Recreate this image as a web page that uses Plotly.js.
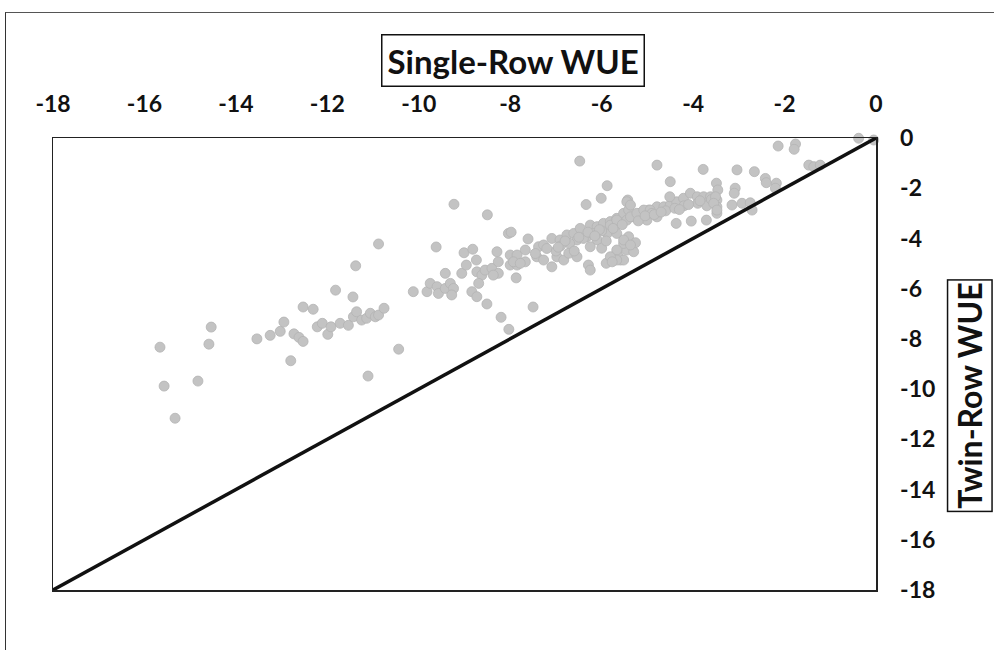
<!DOCTYPE html>
<html>
<head>
<meta charset="utf-8">
<script src="https://cdn.plot.ly/plotly-3.0.1.min.js"></script>
<style>
html,body{margin:0;padding:0;background:#fff;}
#wrap{position:relative;width:994px;height:650px;overflow:hidden;}
#chart{position:absolute;left:0;top:0;width:994px;height:650px;}
#frame{position:absolute;left:5px;top:12px;width:1000px;height:700px;border-left:1.5px solid #333;border-top:1.5px solid #555;pointer-events:none;}
</style>
</head>
<body>
<div id="wrap"><div id="chart"></div><div id="frame"></div></div>
<script>
// Single-Row WUE (x) vs Twin-Row WUE (y)
const singleRowWUE = [
-15.66,-15.57,-15.33,-14.83,-14.59,-14.54,-13.54,-13.25,-13.03,-12.95,-12.80,-12.73,-12.62,-12.53,-12.53,-12.31,-12.22,-12.11,-11.99,-11.92,
-11.82,-11.72,-11.54,-11.44,-11.43,-11.36,-11.38,-11.25,-11.14,-11.06,-10.95,-10.88,-10.88,-10.76,-11.11,-10.44,-10.12,
-9.82,-9.75,-9.60,-9.57,-9.42,-9.31,-9.24,-9.28,-9.62,-9.23,-9.42,-9.06,-8.96,-9.01,-8.82,-8.74,-8.84,-8.73,-8.51,-8.73,
-8.62,-8.55,-8.40,-8.69,-8.50,-8.29,-8.26,-8.26,-8.37,-8.20,-8.03,-8.04,-7.98,-8.00,-7.85,-7.67,-8.00,-7.85,-7.67,-7.93,
-7.78,-7.87,-7.61,-7.50,-7.38,-7.27,-7.42,-7.27,-7.09,-6.98,-6.83,-6.72,-6.54,-7.09,-6.91,-6.76,-6.61,-6.47,-6.25,-6.10,
-5.96,-5.81,-5.67,-5.52,-5.41,-6.54,-6.32,-6.10,-6.00,-6.25,-6.29,-6.25,-5.90,-5.67,-5.59,-5.45,-5.52,-5.41,-6.48,-5.88,
-6.01,-6.34,-5.43,-5.88,-5.74,-5.59,-5.45,-5.30,-5.16,-4.97,-4.79,-5.45,-5.37,-5.63,-5.30,-5.26,-5.81,-5.67,-5.37,-5.23,
-5.08,-4.94,-4.64,-4.50,-4.36,-4.21,-4.06,-3.91,-3.77,-3.62,-3.48,-3.48,-3.48,-4.37,-4.04,-3.71,-5.67,-5.52,-5.67,-5.37,
-5.52,-5.67,-5.81,-5.77,-4.79,-3.78,-4.50,-4.51,-3.49,-3.46,-5.01,-4.79,
-6.90,-6.70,-6.40,-6.20,-6.00,-5.90,-6.60,-7.00,-4.90,-4.60,-4.20,-3.90,-4.40,-3.70,
-6.80,-6.50,-6.30,-6.05,-5.75,-5.55,-5.20,-5.05,-4.85,-4.70,-4.30,-4.10,-3.85,-3.60,-7.20,-7.45,-6.95,-6.15,
-2.14,-1.76,-1.79,-0.38,-0.05,-3.04,-2.66,-2.42,-2.40,-2.18,-2.20,-1.47,-1.36,-1.22,-3.51,-3.55,-3.48,-3.08,-3.10,-3.15,
-2.93,-2.75,-2.71
];
const twinRowWUE = [
-8.33,-9.88,-11.16,-9.68,-8.21,-7.53,-8.00,-7.86,-7.70,-7.33,-8.87,-7.80,-7.94,-8.10,-6.73,-6.82,-7.52,-7.38,-7.82,-7.52,
-6.06,-7.38,-7.46,-6.33,-7.12,-6.92,-5.09,-7.25,-7.18,-6.98,-7.12,-4.22,-7.05,-6.78,-9.48,-8.41,-6.12,
-6.12,-5.79,-5.92,-6.19,-5.99,-5.79,-5.99,-6.25,-4.34,-2.64,-5.39,-5.39,-5.06,-4.57,-4.43,-4.86,-6.12,-6.32,-6.61,-5.33,
-5.46,-5.26,-5.19,-5.79,-3.06,-4.53,-4.93,-5.39,-5.46,-7.14,-7.62,-3.80,-3.75,-4.66,-4.66,-4.46,-5.06,-5.06,-4.93,-4.93,
-4.99,-5.57,-4.02,-6.73,-4.33,-4.26,-4.73,-4.86,-5.13,-4.73,-4.86,-4.59,-4.73,-4.00,-4.06,-3.86,-3.80,-3.60,-3.47,-3.53,
-3.40,-3.33,-3.20,-3.00,-2.87,-4.06,-3.93,-4.06,-4.39,-4.33,-5.06,-5.26,-4.99,-4.59,-4.86,-4.46,-4.20,-3.93,-0.92,-1.90,
-2.40,-2.65,-2.47,-3.80,-3.53,-3.40,-3.27,-3.14,-3.00,-2.87,-2.74,-2.54,-2.67,-4.73,-4.53,-4.17,-3.47,-3.27,-3.14,-3.00,
-2.87,-2.87,-2.74,-2.67,-2.54,-2.40,-2.20,-2.34,-2.34,-2.34,-2.47,-2.74,-3.00,-3.40,-3.31,-3.27,-3.80,-4.06,-4.46,-4.26,
-4.86,-4.86,-4.73,-4.93,-1.08,-1.25,-1.74,-2.34,-1.80,-2.07,-3.27,-3.14,
-4.30,-4.20,-4.00,-3.80,-3.70,-4.10,-4.50,-4.50,-3.00,-2.90,-2.70,-2.60,-2.80,-2.70,
-4.10,-3.95,-3.75,-3.65,-3.60,-3.45,-3.30,-3.10,-3.05,-2.95,-2.85,-2.65,-2.50,-2.45,-4.40,-4.60,-4.35,-3.90,
-0.32,-0.24,-0.45,-0.01,-0.08,-1.27,-1.34,-1.61,-1.78,-1.80,-2.00,-1.08,-1.14,-1.08,-2.34,-2.60,-2.87,-2.00,-2.20,-2.67,
-2.60,-2.58,-2.87
];
// 1:1 reference line
const oneToOneX = [-18, 0];
const oneToOneY = [-18, 0];
const tickVals = [-18,-16,-14,-12,-10,-8,-6,-4,-2,0];
const tickText = ['-18','-16','-14','-12','-10','-8','-6','-4','-2','0'];
const xTitle = 'Single-Row WUE';
const yTitle = 'Twin-Row WUE';

const FONT = 'Lato, "Liberation Sans", Arial, sans-serif';

const traces = [
  {
    x: singleRowWUE, y: twinRowWUE, type: 'scatter', mode: 'markers',
    marker: {size: 10, color: '#c3c3c3', line: {color: '#b4b4b4', width: 0.8}},
    cliponaxis: false, hoverinfo: 'x+y', showlegend: false
  },
  {
    x: oneToOneX, y: oneToOneY, type: 'scatter', mode: 'lines',
    line: {color: '#111', width: 3.5}, cliponaxis: false, showlegend: false
  }
];

const axisCommon = {
  range: [-18, 0], tickvals: tickVals, ticktext: tickText,
  showgrid: false, zeroline: false, showline: true, mirror: true,
  linecolor: '#222', linewidth: 1.5,
  ticks: 'outside', tickcolor: 'rgba(0,0,0,0)',
  tickfont: {family: FONT, size: 23, color: '#111', weight: 'bold'},
  fixedrange: true
};

const layout = {
  width: 994, height: 650,
  margin: {l: 53, r: 118, t: 138, b: 60, pad: 0},
  paper_bgcolor: '#fff', plot_bgcolor: '#fff',
  showlegend: false,
  xaxis: Object.assign({}, axisCommon, {side: 'top', ticklen: 15}),
  yaxis: Object.assign({}, axisCommon, {side: 'right', ticklen: 18}),
  annotations: [
    {
      text: xTitle, xref: 'paper', yref: 'paper', x: 0.559, y: 1.171,
      xanchor: 'center', yanchor: 'middle', showarrow: false,
      font: {family: FONT, size: 33, color: '#111', weight: 'bold'},
      bordercolor: '#111', borderwidth: 1.5, borderpad: 5, bgcolor: '#fff'
    },
    {
      text: yTitle, xref: 'paper', yref: 'paper', x: 1.1142, y: 0.431,
      xanchor: 'center', yanchor: 'middle', showarrow: false, textangle: -90,
      font: {family: FONT, size: 32, color: '#111', weight: 'bold'},
      bordercolor: '#111', borderwidth: 1.5, borderpad: 2, bgcolor: '#fff'
    }
  ]
};

Plotly.newPlot('chart', traces, layout, {displayModeBar: false, staticPlot: true});
</script>
</body>
</html>
